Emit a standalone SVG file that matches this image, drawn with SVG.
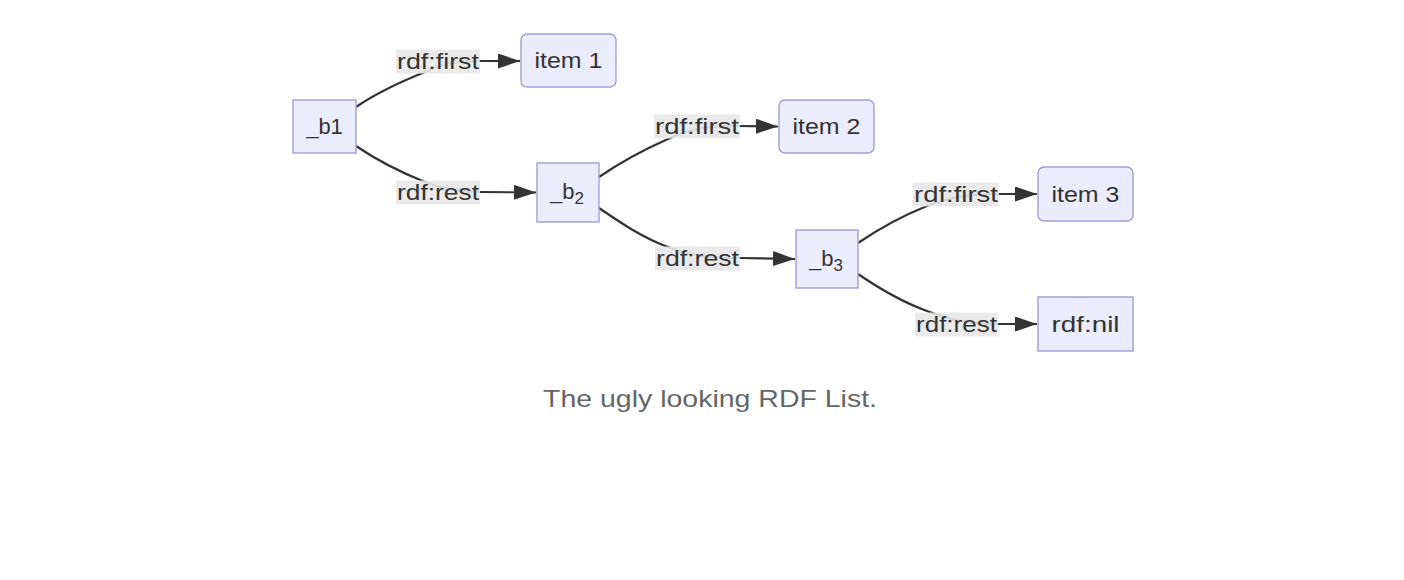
<svg xmlns="http://www.w3.org/2000/svg" width="1404" height="580" viewBox="0 0 1404 580">
<style>
.node rect{fill:#ECECFF;stroke:#a59dda;stroke-width:1.4}
.node text{font-family:"Liberation Sans",Arial,sans-serif;font-size:22px;fill:#333;text-anchor:middle}
.edge path{fill:none;stroke:#333;stroke-width:2.2}
.lbl rect{fill:#e8e8e8;opacity:0.9}
.lbl text{font-family:"Liberation Sans",Arial,sans-serif;font-size:22px;fill:#333;text-anchor:middle}
.cap{font-family:"Liberation Sans",Arial,sans-serif;font-size:24px;fill:#666;text-anchor:middle}
</style>
<defs>
<marker id="arr" markerUnits="userSpaceOnUse" markerWidth="24" markerHeight="16" refX="22" refY="7.5" orient="auto">
<path d="M0,0 L22,7.5 L0,15 Z" fill="#333"/>
</marker>
</defs>
<rect width="1404" height="580" fill="#fff"/>
<g id="connectors" class="edge">
<path d="M356,107 C378,92 400,82 425,72 C440,64 455,61 480,61 L520,61" marker-end="url(#arr)"/>
<path d="M356,146 C378,161 400,172 425,182 C440,188 455,192 480,192 L536,192.5" marker-end="url(#arr)"/>
<path d="M599,177 C621,162 643,150 668,139 C690,128 710,126 740,126 L778,126.5" marker-end="url(#arr)"/>
<path d="M599,208 C621,223 643,238 668,247 C690,256 710,258 740,258 L795,259" marker-end="url(#arr)"/>
<path d="M858,243 C880,228 902,216 927,206 C950,197 970,194 999,194 L1037,194" marker-end="url(#arr)"/>
<path d="M858,274 C880,289 902,302 927,311 C950,320 970,324 998,324 L1037,324" marker-end="url(#arr)"/>
</g>
<g id="edge-labels">
<g class="lbl"><rect x="396" y="49.5" width="84" height="24"/><text x="438" y="68.5" textLength="82" lengthAdjust="spacingAndGlyphs">rdf:first</text></g>
<g class="lbl"><rect x="396" y="180.5" width="84" height="24"/><text x="438" y="199.5" textLength="82" lengthAdjust="spacingAndGlyphs">rdf:rest</text></g>
<g class="lbl"><rect x="654" y="114.5" width="86" height="24"/><text x="697" y="133.5" textLength="84" lengthAdjust="spacingAndGlyphs">rdf:first</text></g>
<g class="lbl"><rect x="655" y="246.5" width="85" height="24"/><text x="697.5" y="265.5" textLength="83" lengthAdjust="spacingAndGlyphs">rdf:rest</text></g>
<g class="lbl"><rect x="913" y="182.5" width="86" height="24"/><text x="956" y="201.5" textLength="84" lengthAdjust="spacingAndGlyphs">rdf:first</text></g>
<g class="lbl"><rect x="915" y="312.5" width="83" height="24"/><text x="956.5" y="331.5" textLength="81" lengthAdjust="spacingAndGlyphs">rdf:rest</text></g>
</g>
<g id="b1" class="node"><rect x="293" y="100" width="63" height="53"/><text x="324.5" y="134">_b1</text></g>
<g id="item1" class="node"><rect x="521" y="34" width="95" height="53" rx="6"/><text x="568.5" y="68" textLength="68" lengthAdjust="spacingAndGlyphs">item 1</text></g>
<g id="b2" class="node"><rect x="537" y="163" width="62" height="59"/><text x="567" y="199">_b<tspan font-size="17" dy="5">2</tspan></text></g>
<g id="item2" class="node"><rect x="779" y="100" width="95" height="53" rx="6"/><text x="826.5" y="134" textLength="68" lengthAdjust="spacingAndGlyphs">item 2</text></g>
<g id="b3" class="node"><rect x="796" y="230" width="62" height="58"/><text x="826" y="266">_b<tspan font-size="17" dy="5">3</tspan></text></g>
<g id="item3" class="node"><rect x="1038" y="167" width="95" height="54" rx="6"/><text x="1085.5" y="201.5" textLength="68" lengthAdjust="spacingAndGlyphs">item 3</text></g>
<g id="nil" class="node"><rect x="1038" y="297" width="95" height="54"/><text x="1085.5" y="331.5" textLength="68" lengthAdjust="spacingAndGlyphs">rdf:nil</text></g>
<text class="cap" x="710" y="407" textLength="334" lengthAdjust="spacingAndGlyphs">The ugly looking RDF List.</text>
</svg>
